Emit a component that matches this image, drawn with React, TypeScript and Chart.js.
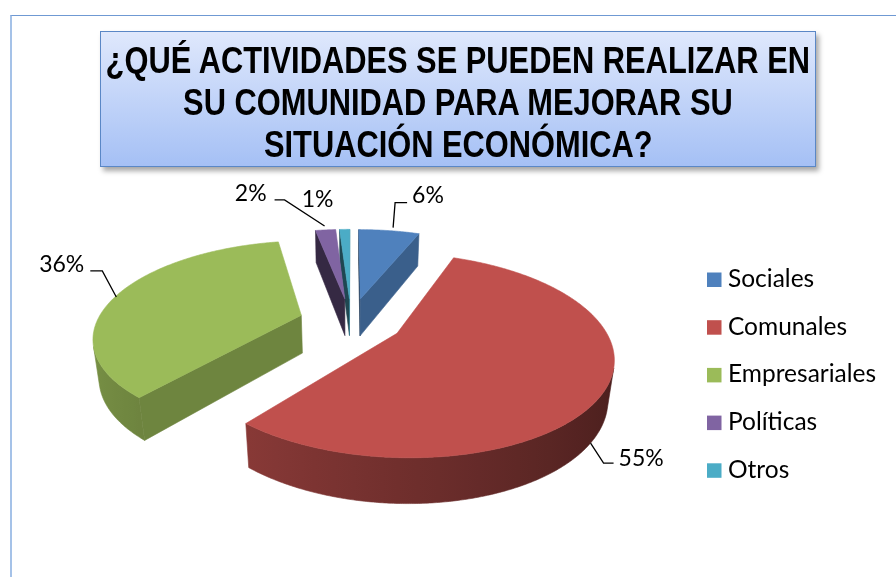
import React, { useEffect, useRef } from "react";
import { Chart, registerables } from "chart.js";

Chart.register(...registerables);

// ---------- data ----------
const CATEGORIES = ["Sociales", "Comunales", "Empresariales", "Políticas", "Otros"];
const VALUES = [6, 55, 36, 2, 1];
const VALUE_LABELS = ["6%", "55%", "36%", "2%", "1%"];
const COLORS = ["#4F81BD", "#C0504D", "#9BBB59", "#8064A2", "#4BACC6"];
const TITLE_LINES = [
  "¿QUÉ ACTIVIDADES SE PUEDEN REALIZAR EN",
  "SU COMUNIDAD PARA MEJORAR SU",
  "SITUACIÓN ECONÓMICA?",
];

// ---------- style ----------
const W = 896;
const H = 577;
const TILT = (26.9 * Math.PI) / 180;
const CAM_DIST = 4.24;
const THICK = 0.215;
const EXPLODE = 0.255;
const LABEL_FONT = '23px Lato, "Open Sans", sans-serif';
const LEGEND_FONT = '24.5px Lato, "Open Sans", sans-serif';

type LabelStyle = {
  nudge: [number, number];
  leader: [number, number][] | null;
  text: [number, number];
  align: CanvasTextAlign;
};
// offsets relative to each slice's projected anchor point
const LABEL_STYLES: LabelStyle[] = [
  { nudge: [4, -3], leader: [[2, -25], [14, -25]], text: [19, -25], align: "left" },
  { nudge: [-15, 54], leader: [[13, 20], [23, 20]], text: [28, 23], align: "left" },
  { nudge: [-2, 3], leader: [[-14, -26], [-26, -26]], text: [-32, -25], align: "right" },
  { nudge: [-1, -4], leader: [[-40, -26], [-50, -26]], text: [-58, -25], align: "right" },
  { nudge: [0, 0], leader: null, text: [-27, -22], align: "center" },
];
const LEGEND_X = 707;
const LEGEND_Y0 = 272.5;
const LEGEND_STEP = 47.7;
const LEGEND_BOX = 14.5;

function rgbOf(hex: string): [number, number, number] {
  const n = parseInt(hex.slice(1), 16);
  return [(n >> 16) & 255, (n >> 8) & 255, n & 255];
}
function shade(hex: string, f: number): string {
  const [r, g, b] = rgbOf(hex);
  const k = (v: number) => Math.min(255, Math.round(v * f));
  return `rgb(${k(r)},${k(g)},${k(b)})`;
}

function geometry(chart: any) {
  const arcs = chart.getDatasetMeta(0).data as any[];
  const cx = arcs[0].x;
  const cy = arcs[0].y;
  const R = arcs[0].outerRadius;
  const s = Math.sin(TILT);
  const c = Math.cos(TILT);
  const D = CAM_DIST;
  const F = R * D;
  const proj = (X: number, Y: number, Z: number): [number, number] => {
    const d = D - Z * c - Y * s;
    return [cx + (F * X) / d, cy + (F * (Z * s - Y * c)) / d];
  };
  const visible = (px: number, pz: number, nx: number, nz: number) =>
    -px * nx + (D * c - pz) * nz > 0;
  const slices = arcs.map((a, i) => {
    const m = (a.startAngle + a.endAngle) / 2;
    return {
      i,
      a1: a.startAngle as number,
      a2: a.endAngle as number,
      m,
      ox: EXPLODE * Math.cos(m),
      oz: EXPLODE * Math.sin(m),
      color: (a.options.backgroundColor as string) || COLORS[i],
    };
  });
  return { proj, visible, slices };
}

const pie3d = {
  id: "pie3d",
  beforeDatasetsDraw(chart: any) {
    const ctx = chart.ctx as CanvasRenderingContext2D;
    const meta = chart.getDatasetMeta(0);
    if (!meta.data.length) return false;
    const { proj, visible, slices } = geometry(chart);

    const path = (pts: [number, number][]) => {
      ctx.beginPath();
      pts.forEach(([x, y], k) => (k ? ctx.lineTo(x, y) : ctx.moveTo(x, y)));
      ctx.closePath();
    };
    const poly = (pts: [number, number][], fill: string | CanvasGradient) => {
      path(pts);
      ctx.fillStyle = fill;
      ctx.fill();
      ctx.strokeStyle = fill;
      ctx.lineWidth = 0.6;
      ctx.stroke();
    };

    ctx.save();
    const order = [...slices].sort((p, q) => p.oz - q.oz);
    for (const sl of order) {
      const { a1, a2, ox, oz, color } = sl;
      if (a2 - a1 <= 0) continue;
      // cut faces
      const edges: [number, number][] = [
        [a1, 1],
        [a2, -1],
      ];
      for (const [ang, sign] of edges) {
        const nx = sign * Math.sin(ang);
        const nz = -sign * Math.cos(ang);
        const mx = ox + 0.5 * Math.cos(ang);
        const mz = oz + 0.5 * Math.sin(ang);
        if (!visible(mx, mz, nx, nz)) continue;
        const rx = ox + Math.cos(ang);
        const rz = oz + Math.sin(ang);
        poly(
          [proj(ox, 0, oz), proj(rx, 0, rz), proj(rx, -THICK, rz), proj(ox, -THICK, oz)],
          shade(color, 0.58 + 0.17 * nx)
        );
      }
      // outer wall: one path, smooth horizontal gradient
      const steps = Math.max(4, Math.ceil((a2 - a1) / (Math.PI / 360)));
      const vis: number[] = [];
      for (let k = 0; k <= steps; k++) {
        const t = a1 + ((a2 - a1) * k) / steps;
        if (visible(ox + Math.cos(t), oz + Math.sin(t), Math.cos(t), Math.sin(t))) vis.push(t);
      }
      if (vis.length > 1) {
        const top = vis.map((t) => proj(ox + Math.cos(t), 0, oz + Math.sin(t)));
        const bot = vis.map((t) => proj(ox + Math.cos(t), -THICK, oz + Math.sin(t)));
        const xs = top[0][0];
        const xe = top[top.length - 1][0];
        let grad: CanvasGradient | string = shade(color, 0.58 - 0.2 * Math.cos(vis[0]));
        if (Math.abs(xe - xs) > 1) {
          const g = ctx.createLinearGradient(xs, 0, xe, 0);
          const n = 12;
          for (let j = 0; j <= n; j++) {
            const idx = Math.round((j / n) * (vis.length - 1));
            const off = Math.min(1, Math.max(0, (top[idx][0] - xs) / (xe - xs)));
            g.addColorStop(off, shade(color, 0.58 - 0.2 * Math.cos(vis[idx])));
          }
          grad = g;
        }
        poly([...top, ...bot.reverse()], grad);
      }
      // top face
      const pts: [number, number][] = [proj(ox, 0, oz)];
      for (let k = 0; k <= steps; k++) {
        const t = a1 + ((a2 - a1) * k) / steps;
        pts.push(proj(ox + Math.cos(t), 0, oz + Math.sin(t)));
      }
      poly(pts, color);
    }
    ctx.restore();
    return false;
  },
  afterDraw(chart: any) {
    const ctx = chart.ctx as CanvasRenderingContext2D;
    const meta = chart.getDatasetMeta(0);
    if (!meta.data.length) return;
    const { proj, slices } = geometry(chart);
    const labels = chart.data.labels as string[];
    ctx.save();
    ctx.font = LABEL_FONT;
    ctx.fillStyle = "#000";
    ctx.strokeStyle = "#000";
    ctx.lineWidth = 1.3;
    ctx.textBaseline = "alphabetic";
    // data labels with leader lines
    slices.forEach((sl) => {
      const st = LABEL_STYLES[sl.i];
      const [ax0, ay0] = proj(sl.ox + Math.cos(sl.m), 0, sl.oz + Math.sin(sl.m));
      const ax = ax0 + st.nudge[0];
      const ay = ay0 + st.nudge[1];
      if (st.leader) {
        ctx.beginPath();
        ctx.moveTo(ax, ay);
        st.leader.forEach(([dx, dy]) => ctx.lineTo(ax + dx, ay + dy));
        ctx.stroke();
      }
      ctx.textAlign = st.align;
      ctx.fillText(VALUE_LABELS[sl.i], ax + st.text[0], ay + st.text[1]);
    });
    // legend
    ctx.font = LEGEND_FONT;
    ctx.textAlign = "left";
    labels.forEach((lab, i) => {
      const y = LEGEND_Y0 + i * LEGEND_STEP;
      ctx.fillStyle = COLORS[i];
      ctx.fillRect(LEGEND_X, y, LEGEND_BOX, LEGEND_BOX);
      ctx.fillStyle = "#000";
      ctx.fillText(lab, LEGEND_X + 21, y + LEGEND_BOX);
    });
    ctx.restore();
  },
};

export default function App() {
  const ref = useRef<HTMLCanvasElement | null>(null);
  useEffect(() => {
    if (!ref.current) return;
    const chart = new Chart(ref.current, {
      type: "pie",
      data: {
        labels: CATEGORIES,
        datasets: [{ data: VALUES, backgroundColor: COLORS, borderWidth: 0 }],
      },
      options: {
        animation: false,
        responsive: false,
        devicePixelRatio: 1,
        layout: { padding: { left: 147, right: 341, top: 117, bottom: 52 } },
        plugins: { legend: { display: false }, tooltip: { enabled: false } },
      },
      plugins: [pie3d as any],
    });
    return () => chart.destroy();
  }, []);

  return (
    <div
      style={{
        position: "absolute",
        left: 0,
        top: 0,
        width: W,
        height: H,
        overflow: "hidden",
        background: "#fff",
      }}
    >
      <div
        style={{
          position: "absolute",
          left: 10,
          top: 15,
          width: W,
          height: H,
          borderTop: "1px solid #6f99d3",
          borderLeft: "2px solid #a5c2e8",
        }}
      />
      <canvas
        ref={ref}
        width={W}
        height={H}
        style={{ position: "absolute", left: 0, top: 0, width: W, height: H }}
      />
      <div
        style={{
          position: "absolute",
          left: 100,
          top: 31,
          width: 716,
          height: 136,
          boxSizing: "border-box",
          border: "1.5px solid #5a87c6",
          background: "linear-gradient(#dfe8fc, #a5c0f5)",
          boxShadow: "3px 4px 5px rgba(0,0,0,0.35)",
          paddingTop: 8,
          fontFamily: '"Liberation Sans", Arial, sans-serif',
          fontWeight: 700,
          fontSize: 37,
          lineHeight: "42px",
          color: "#000",
          whiteSpace: "nowrap",
        }}
      >
        {TITLE_LINES.map((l) => (
          <div key={l} style={{ display: "flex", justifyContent: "center", height: 42 }}>
            <span
              style={{
                display: "inline-block",
                flex: "none",
                transform: "scaleX(0.833)",
                transformOrigin: "center",
              }}
            >
              {l}
            </span>
          </div>
        ))}
      </div>
    </div>
  );
}
